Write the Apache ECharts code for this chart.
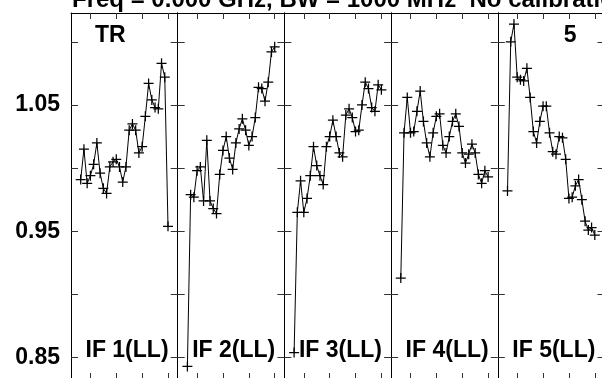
<!DOCTYPE html>
<html>
<head>
<meta charset="utf-8">
<script src="https://cdn.jsdelivr.net/npm/echarts@6/dist/echarts.min.js"></script>
<style>
html, body { margin: 0; padding: 0; background: #fff; }
#chart { width: 602px; height: 378px; }
</style>
</head>
<body>
<div id="chart"></div>
<script>
// channel numbers inside each IF panel
var channels = [1, 2, 3, 4, 5, 6, 7, 8, 9, 10, 11, 12, 13, 14,
                15, 16, 17, 18, 19, 20, 21, 22, 23, 24, 25, 26, 27, 28];

// amplitude per channel, one list per IF
var if1 = [0.991, 1.015, 0.988, 0.994, 1.003, 1.020, 0.996, 0.984, 0.980, 1.001, 1.005, 1.007, 1.001, 0.989,
           1.001, 1.030, 1.035, 1.030, 1.012, 1.017, 1.041, 1.067, 1.054, 1.048, 1.047, 1.083, 1.072, 0.954];
var if2 = [0.843, 0.979, 0.977, 0.998, 1.001, 0.974, 1.022, 0.974, 0.968, 0.964, 0.995, 1.014, 1.025, 1.008,
           0.999, 1.020, 1.031, 1.039, 1.030, 1.018, 1.025, 1.040, 1.064, 1.063, 1.053, 1.068, 1.092, 1.096];
var if3 = [0.854, 0.965, 0.990, 0.965, 0.976, 0.994, 1.017, 1.002, 0.994, 0.987, 1.017, 1.025, 1.038, 1.025,
           1.012, 1.009, 1.042, 1.047, 1.040, 1.029, 1.030, 1.050, 1.068, 1.063, 1.048, 1.045, 1.066, 1.062];
var if4 = [0.913, 1.028, 1.056, 1.028, 1.029, 1.045, 1.061, 1.037, 1.020, 1.009, 1.028, 1.041, 1.043, 1.018,
           1.012, 1.025, 1.037, 1.043, 1.033, 1.012, 1.004, 1.011, 1.019, 1.012, 0.995, 0.988, 0.998, 0.993];
var if5 = [0.982, 1.100, 1.114, 1.072, 1.070, 1.069, 1.079, 1.056, 1.029, 1.020, 1.037, 1.049, 1.049, 1.028,
           1.013, 1.011, 1.025, 1.024, 1.007, 0.976, 0.977, 0.986, 0.991, 0.975, 0.958, 0.951, 0.953, 0.947];

var ifNames = ['IF 1(LL)', 'IF 2(LL)', 'IF 3(LL)', 'IF 4(LL)', 'IF 5(LL)'];
var yTicks = [0.85, 0.9, 0.95, 1.0, 1.05, 1.1];
var yLabels = [0.85, 0.95, 1.05];
var xTicks = [4, 12, 20, 28];
var titleText = 'Freq = 0.000 GHz, BW = 1000 MHz  No calibration';

var chart = echarts.init(document.getElementById('chart'));
var font = 'Liberation Sans, Arial, sans-serif';
var ifData = [if1, if2, if3, if4, if5];

var panelLeft = 71, panelW = 106.7, plotTop = 13, plotH = 366;
var yMin = 0.8331, yMax = 1.1228;

// '+' marker
var plus = 'path://M7,0H9V7H16V9H9V16H7V9H0V7H7Z';

var grids = [], xAxes = [], yAxes = [], series = [], titles = [];

titles.push({ text: titleText, left: 72, top: -12, padding: 0,
  textStyle: { fontFamily: font, fontSize: 24, fontWeight: 'bold', color: '#000' } });

function boldText(t, x, y) {
  return { text: t, left: x, top: y, padding: 0,
    textStyle: { fontFamily: font, fontSize: 23, fontWeight: 'bold', color: '#000' } };
}

for (var i = 0; i < ifData.length; i++) {
  var left = panelLeft + i * panelW;
  grids.push({ left: left, top: plotTop, width: panelW, height: plotH,
    containLabel: false, outerBoundsMode: 'none' });

  ['bottom', 'top'].forEach(function(pos) {
    xAxes.push({
      type: 'value', gridIndex: i, position: pos, min: -2, max: 31,
      axisLine: { show: true, onZero: false, lineStyle: { color: '#000', width: 1 } },
      axisTick: { show: true, inside: true, length: 6, customValues: xTicks, lineStyle: { color: '#333' } },
      axisLabel: { show: false },
      splitLine: { show: false }
    });
  });
  ['left', 'right'].forEach(function(pos) {
    var showLabel = (i === 0 && pos === 'left');
    yAxes.push({
      type: 'value', gridIndex: i, position: pos, min: yMin, max: yMax,
      axisLine: { show: true, onZero: false, lineStyle: { color: '#000', width: 1 } },
      axisTick: { show: true, inside: true, length: 7, customValues: yTicks, lineStyle: { color: '#333' } },
      axisLabel: { show: showLabel, customValues: yLabels, margin: 11,
        fontFamily: font, fontSize: 23, fontWeight: 'bold', color: '#000',
        formatter: function(v) { return v.toFixed(2); } },
      splitLine: { show: false }
    });
  });

  series.push({
    type: 'line',
    xAxisIndex: i * 2,
    yAxisIndex: i * 2,
    data: channels.map(function(c, k) { return [c, ifData[i][k]]; }),
    symbol: plus,
    symbolSize: 10,
    showAllSymbol: true,
    lineStyle: { color: '#000', width: 1 },
    itemStyle: { color: '#000' },
    emphasis: { disabled: true },
    animation: false
  });

  titles.push(boldText(ifNames[i], left + 14.5, 339));
}

titles.push(boldText('TR', panelLeft + 24, 24.5));
titles.push(boldText('5', panelLeft + 4 * panelW + 66, 24.5));

chart.setOption({
  backgroundColor: '#fff',
  animation: false,
  title: titles,
  grid: grids,
  xAxis: xAxes,
  yAxis: yAxes,
  series: series
});
</script>
</body>
</html>
